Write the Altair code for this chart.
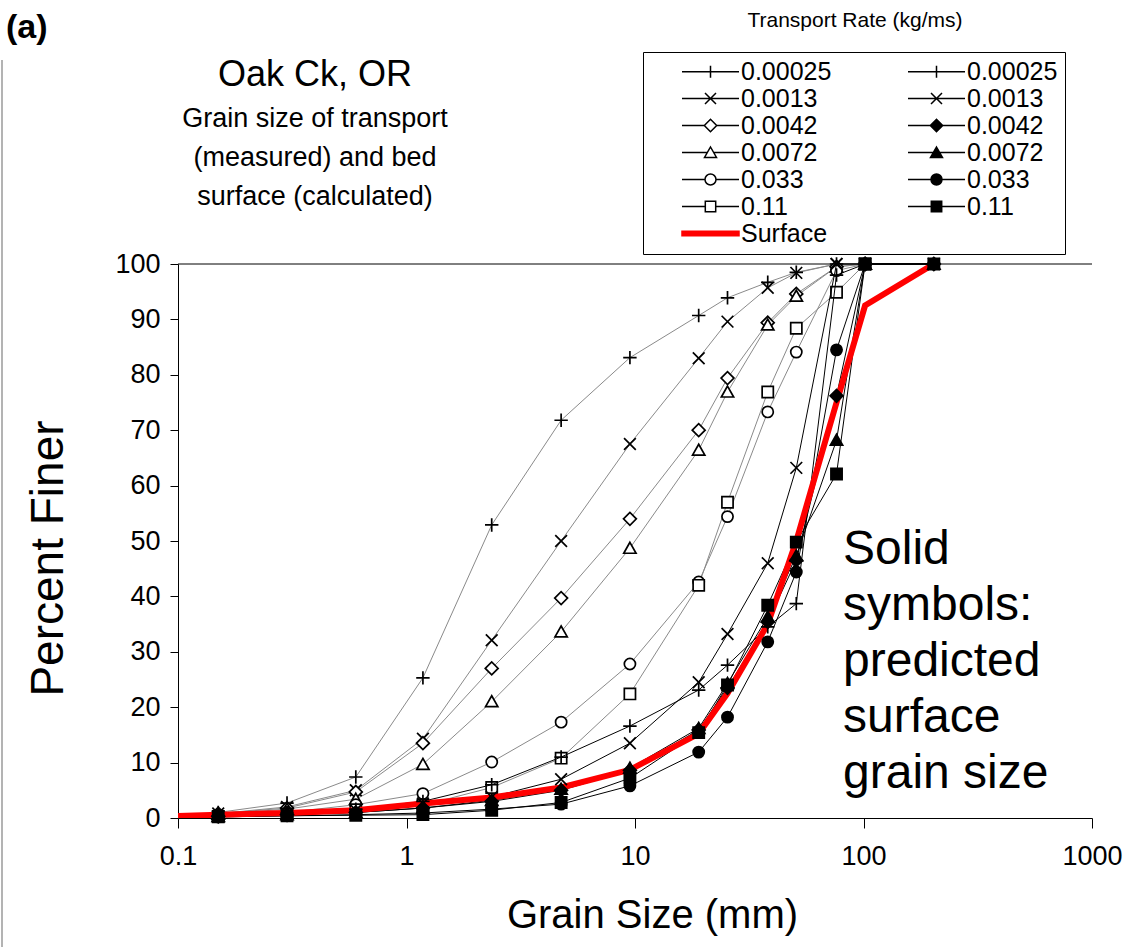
import altair as alt
import pandas as pd

FONT = "Liberation Sans"

# Sieve sizes (mm) of the transport samples
sizes = [0.15, 0.3, 0.6, 1.18, 2.36, 4.75, 9.5, 19.0, 25.4, 38.1, 50.8, 76.2, 101.6]
# Predicted surface distributions run one size further
pred_sizes = sizes + [203.2]

rates = ["0.00025", "0.0013", "0.0042", "0.0072", "0.033", "0.11"]
markers = ["plus", "cross", "diamond", "triangle", "circle", "square"]

# Measured transport grain size distributions, percent finer (open symbols)
measured = {
    "0.00025": [1.0, 2.7, 7.4, 25.3, 52.9, 71.8, 83.1, 90.7, 93.9, 96.7, 98.5, 100, 100],
    "0.0013": [0.8, 2.0, 5.0, 14.3, 32.1, 50.0, 67.5, 83.0, 89.6, 95.7, 98.4, 100, 100],
    "0.0042": [0.8, 1.8, 4.7, 13.5, 27.0, 39.7, 54.0, 70.0, 79.4, 89.4, 94.6, 99.5, 100],
    "0.0072": [0.7, 1.6, 3.4, 9.7, 21.0, 33.6, 48.7, 66.4, 76.9, 89.0, 94.2, 99.5, 100],
    "0.033": [0.5, 1.0, 2.4, 4.4, 10.1, 17.3, 27.8, 42.6, 54.4, 73.3, 84.1, 98.8, 100],
    "0.11": [0.3, 0.7, 1.5, 2.3, 5.5, 10.8, 22.4, 42.0, 57.0, 76.9, 88.4, 94.9, 100],
}

# Predicted bed surface distributions, percent finer (solid symbols)
predicted = {
    "0.00025": [0.4, 0.9, 1.6, 3.0, 6.0, 11.0, 16.6, 23.1, 27.6, 34.5, 38.7, 98.0, 100, 100],
    "0.0013": [0.3, 0.8, 1.4, 2.6, 3.8, 7.0, 13.5, 24.5, 33.2, 46.0, 63.2, 100, 100, 100],
    "0.0042": [0.3, 0.6, 1.0, 1.8, 3.0, 5.0, 8.6, 15.9, 23.5, 35.4, 46.5, 76.2, 100, 100],
    "0.0072": [0.3, 0.6, 1.0, 1.8, 3.2, 5.2, 9.0, 16.2, 24.3, 36.3, 47.3, 68.2, 100, 100],
    "0.033": [0.2, 0.4, 0.6, 0.9, 1.6, 2.5, 5.8, 11.9, 18.2, 31.8, 44.4, 84.5, 100, 100],
    "0.11": [0.2, 0.4, 0.5, 0.6, 1.4, 2.8, 7.2, 15.4, 24.0, 38.4, 49.8, 62.1, 100, 100],
}

# Calculated bed surface
surface_sizes = [0.075, 0.15, 0.3, 0.6, 1.18, 2.36, 4.75, 9.5, 19.0, 25.4, 38.1, 50.8, 76.2, 101.6, 203.2]
surface_pct = [0.2, 0.6, 0.9, 1.4, 2.6, 3.7, 5.5, 8.7, 15.2, 22.5, 35.0, 50.0, 75.0, 92.5, 100]

# Plot-area marker glyphs
marker_paths = [
    "M-1.2,0H1.2M0,-1.2V1.2",
    "M-1.05,-1.05L1.05,1.05M-1.05,1.05L1.05,-1.05",
    "M-1.15,0L0,-1.15L1.15,0L0,1.15Z",
    "M0,-1.05L1.1,0.9L-1.1,0.9Z",
    "circle",
    "square",
]

# Legend glyphs: a short line with the marker on it
legend_glyphs = [
    "M-2.85,0H2.85M0,-0.6V0.6",
    "M-2.85,0H2.85M-0.55,-0.55L0.55,0.55M-0.55,0.55L0.55,-0.55",
    "M-2.85,0H-0.62M0.62,0H2.85M-0.62,0L0,-0.62L0.62,0L0,0.62Z",
    "M-2.85,0H-0.31M0.31,0H2.85M0,-0.55L0.6,0.5L-0.6,0.5Z",
    "M-2.85,0H-0.55M0.55,0H2.85M-0.55,0A0.55,0.55,0,1,0,0.55,0A0.55,0.55,0,1,0,-0.55,0Z",
    "M-2.85,0H-0.52M0.52,0H2.85M-0.52,-0.52H0.52V0.52H-0.52Z",
]
surface_glyph = "M-2.85,-0.22H2.85V0.22H-2.85Z"

rows = []
for rate, mk in zip(rates, markers):
    for s, p in zip(sizes, measured[rate]):
        rows.append({"size": s, "pct": p, "series": rate + "_m", "marker": mk, "kind": "measured"})
    for s, p in zip(pred_sizes, predicted[rate]):
        rows.append({"size": s, "pct": p, "series": rate + "_p", "marker": mk, "kind": "predicted"})
df = pd.DataFrame(rows)
surf = pd.DataFrame({"size": surface_sizes, "pct": surface_pct})

# Legend entries fill column by column: measured + Surface, then predicted
leg_keys = [r + "_m" for r in rates] + ["Surface"] + [r + "_p" for r in rates]
leg_shapes = legend_glyphs + [surface_glyph] + legend_glyphs
leg_fills = ["white"] * 6 + ["#ff0000"] + ["black"] * 6
leg_strokes = ["black"] * 6 + ["#ff0000"] + ["black"] * 6

x_enc = alt.X(
    "size:Q",
    scale=alt.Scale(type="log", domain=[0.1, 1000]),
    axis=alt.Axis(
        values=[0.1, 1, 10, 100, 1000], format="~g", grid=False, labelFlush=False,
        tickSize=10, tickColor="black", domainColor="black",
        labelFontSize=27, labelFont=FONT, labelColor="black", labelPadding=15,
        title="Grain Size (mm)", titleFontSize=40, titleFont=FONT, titleColor="black",
        titleFontWeight="normal", titleX=474, titleY=97, titleBaseline="middle",
        titleAnchor="middle",
    ),
)
y_enc = alt.Y(
    "pct:Q",
    scale=alt.Scale(domain=[0, 100], nice=False),
    axis=alt.Axis(
        values=list(range(0, 101, 10)), grid=False, labelFlush=False,
        tickSize=8, tickColor="black", domainColor="black",
        labelFontSize=27, labelFont=FONT, labelColor="black", labelPadding=10,
        title="Percent Finer", titleFontSize=46, titleFont=FONT, titleColor="black",
        titleFontWeight="normal", titleAngle=270, titleX=-130, titleY=294,
        titleBaseline="middle", titleAnchor="middle",
    ),
)
shape_enc = alt.Shape(
    "marker:N", scale=alt.Scale(domain=markers, range=marker_paths), legend=None
)

base = alt.Chart(df)

open_lines = base.transform_filter("datum.kind == 'measured'").mark_line(
    color="#8a8a8a", strokeWidth=1
).encode(x=x_enc, y=y_enc, detail="series:N")

open_pts = base.transform_filter("datum.kind == 'measured'").mark_point(
    fill="white", stroke="black", strokeWidth=1.7, size=125, opacity=1, filled=True
).encode(x="size:Q", y="pct:Q", shape=shape_enc)

solid_lines = base.transform_filter("datum.kind == 'predicted'").mark_line(
    color="black", strokeWidth=1
).encode(x="size:Q", y="pct:Q", detail="series:N")

surface_line = alt.Chart(surf).mark_line(
    color="#ff0000", strokeWidth=6, clip=True
).encode(x="size:Q", y="pct:Q")

solid_pts = base.transform_filter("datum.kind == 'predicted'").mark_point(
    fill="black", stroke="black", strokeWidth=1.7, size=125, opacity=1, filled=True
).encode(x="size:Q", y="pct:Q", shape=shape_enc)

legend_cfg = alt.Legend(
    title=None, orient="none", legendX=465, legendY=-212, columns=2,
    symbolSize=400, symbolStrokeWidth=1.5, symbolOffset=48, labelOffset=18,
    labelFontSize=25, labelFont=FONT, labelColor="black",
    labelExpr="replace(replace(datum.label, '_m', ''), '_p', '')",
    strokeColor="black", fillColor="white", padding=7,
    rowPadding=1, columnPadding=44, cornerRadius=0,
)
legend_layer = base.transform_filter("datum.pct < 0").mark_point(
    size=400, opacity=1, filled=True, strokeWidth=1.5
).encode(
    x="size:Q", y="pct:Q",
    shape=alt.Shape("series:N", scale=alt.Scale(domain=leg_keys, range=leg_shapes), legend=legend_cfg),
    fill=alt.Fill("series:N", scale=alt.Scale(domain=leg_keys, range=leg_fills), legend=legend_cfg),
    stroke=alt.Stroke("series:N", scale=alt.Scale(domain=leg_keys, range=leg_strokes), legend=legend_cfg),
)

top_line = alt.Chart(pd.DataFrame({"k": [0]})).mark_rule(color="black", strokeWidth=1).encode(
    y=alt.datum(100)
)

note = pd.DataFrame({"k": [0]})
panel_tag = alt.Chart(note).mark_text(
    text="(a)", font=FONT, fontSize=34, fontWeight="bold", align="left", baseline="middle", color="black"
).encode(x=alt.value(-172), y=alt.value(-236))

site = alt.Chart(note).mark_text(
    text="Oak Ck, OR", font=FONT, fontSize=36, align="center", baseline="middle", color="black"
).encode(x=alt.value(137), y=alt.value(-189))

subtitle = alt.Chart(note).mark_text(
    text=["Grain size of transport", "(measured) and bed", "surface (calculated)"],
    font=FONT, fontSize=27, lineHeight=39, align="center", baseline="top", color="black"
).encode(x=alt.value(137), y=alt.value(-158))

legend_title = alt.Chart(note).mark_text(
    text="Transport Rate (kg/ms)", font=FONT, fontSize=21, align="center", baseline="middle", color="black"
).encode(x=alt.value(677), y=alt.value(-243))

solid_note = alt.Chart(note).mark_text(
    text=["Solid", "symbols:", "predicted", "surface", "grain size"],
    font=FONT, fontSize=48, lineHeight=56, align="left", baseline="top", color="black"
).encode(x=alt.value(665), y=alt.value(262))

edge = alt.Chart(note).mark_rule(color="#9a9a9a", strokeWidth=1.5).encode(
    x=alt.value(-176), y=alt.value(-204), y2=alt.value(683)
)

chart = alt.layer(
    open_lines, open_pts, solid_lines, surface_line, solid_pts, legend_layer,
    top_line, panel_tag, site, subtitle, legend_title, solid_note, edge,
).resolve_scale(
    shape="independent", fill="independent", stroke="independent"
).properties(
    width=914, height=554,
    padding={"left": 178, "top": 264, "right": 42, "bottom": 129},
    autosize=alt.AutoSizeParams(type="none"),
    background="white",
).configure_view(stroke=None)

chart.save("out.html", embed_options={"renderer": "svg", "actions": False})
